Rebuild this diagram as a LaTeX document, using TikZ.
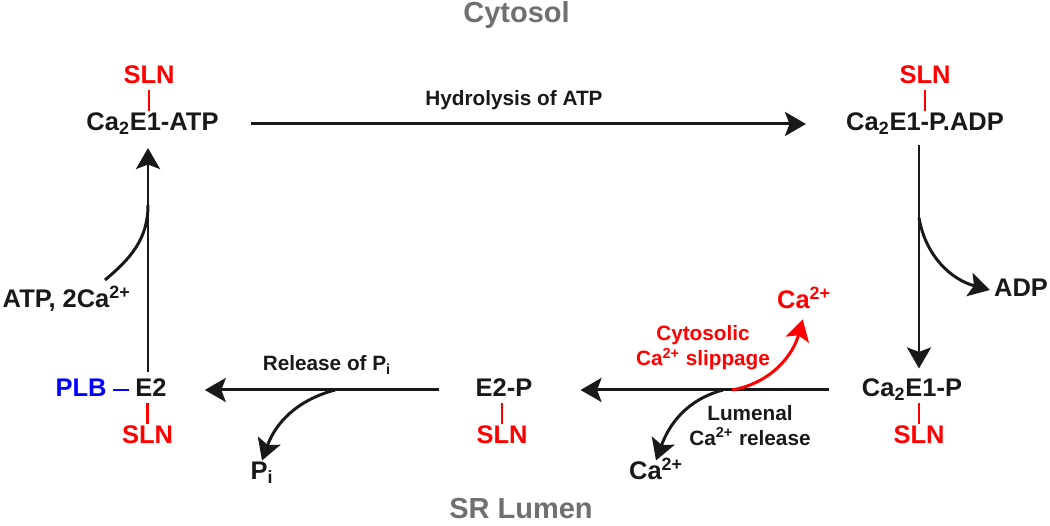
\documentclass[tikz,border=0pt]{standalone}
\usepackage{fontspec}
\setmainfont{Liberation Sans}
\usetikzlibrary{arrows.meta,positioning}
\definecolor{regiongray}{RGB}{112,112,112}
\definecolor{inkblack}{RGB}{25,25,25}
\tikzset{
  state/.style={font=\fontsize{14.5}{17}\selectfont\bfseries,text=inkblack,text height=0.72em,text depth=0pt},
  sln/.style={state,text=red},
  lbl/.style={font=\fontsize{11.8}{14.2}\selectfont\bfseries,text=inkblack,text height=0.72em,text depth=0pt},
  lbltwo/.style={font=\fontsize{11.8}{14.2}\selectfont\bfseries,text=inkblack,align=center},
  region/.style={font=\fontsize{16.5}{19}\selectfont\bfseries,text=regiongray,text height=0.72em,text depth=0pt},
  flow/.style={inkblack,line width=1.7pt,-{Stealth[length=4.2mm,width=4.8mm,inset=0.9mm]}},
  side/.style={inkblack,line width=1.7pt},
  tick/.style={red,line width=1.2pt}
}
\begin{document}
\begin{tikzpicture}
  \useasboundingbox (0,0) rectangle (21,10.52);
  \node[region] (cyto) at (10.33,10.2) {Cytosol};
  \node[region] (lumen) at (10.42,0.28) {SR Lumen};
  % states of the cycle
  \node[state] (atp) at (3.05,8.04) {Ca\textsubscript{2}E1-ATP};
  \node[state] (padp) at (18.5,8.04) {Ca\textsubscript{2}E1-P.ADP};
  \node[state] (cap) at (18.24,2.72) {Ca\textsubscript{2}E1-P};
  \node[state] (e2p) at (10.08,2.72) {E2-P};
  \node[state] (e2) at (3.02,2.72) {E2};
  \node[state,text=blue] (plb) at (1.62,2.72) {PLB};
  \node[sln] (slnatp) at (2.98,8.98) {SLN};
  \node[sln] (slnpadp) at (18.5,8.98) {SLN};
  \node[sln] (slncap) at (18.38,1.78) {SLN};
  \node[sln] (slne2p) at (10.04,1.78) {SLN};
  \node[sln] (slne2) at (2.95,1.78) {SLN};
  \draw[tick] (slnatp.south) -- (slnatp.south |- atp.north);
  \draw[tick] (slnpadp.south) -- (slnpadp.south |- padp.north);
  \draw[tick] (slncap.north) -- (slncap.north |- cap.south);
  \draw[tick] (slne2p.north) -- (slne2p.north |- e2p.south);
  \draw[tick] (slne2.north) -- (slne2.north |- e2.south);
  \draw[blue,line width=1.4pt] (plb.east) -- (e2.west);
  % products and substrates
  \node[state] (adp) at (20.42,4.72) {ADP};
  \node[state] (pi) at (5.24,1.06) {P\textsubscript{i}};
  \node[state] (calum) at (13.12,1.06) {Ca\textsuperscript{2+}};
  \node[state,text=red] (cacyt) at (16.08,4.48) {Ca\textsuperscript{2+}};
  \node[state,anchor=east,inner sep=0pt] (atpca) at (2.62,4.5) {ATP, 2Ca\textsuperscript{2+}};
  % step labels
  \node[lbl] (hyd) at (10.28,8.54) {Hydrolysis of ATP};
  \node[lbl] (relpi) at (6.54,3.23) {Release of P\textsubscript{i}};
  \node[lbltwo,text=red] (slip) at (14.06,3.56) {Cytosolic\\Ca\textsuperscript{2+} slippage};
  \node[lbltwo] (lumrel) at (15.0,2.01) {Lumenal\\Ca\textsuperscript{2+} release};
  % branch points
  \coordinate (atpfork) at (2.96,6.42);
  \coordinate (atpin) at (2.1,4.92);
  \coordinate (adpfork) at (18.38,6.16);
  \coordinate (pifork) at (6.7,2.72);
  \coordinate (lumfork) at (14.46,2.72);
  \coordinate (slipfork) at (14.64,2.72);
  % main cycle
  \draw[flow,shorten <=0.52cm,shorten >=0.68cm] (atp.east) -- (padp.west);
  \draw[flow,shorten <=0.17cm,shorten >=0.18cm] (padp.south -| adpfork) -- (cap.north -| adpfork);
  \draw[flow,shorten <=0.54cm,shorten >=0.84cm] (cap.west) -- (e2p.east);
  \draw[flow,shorten <=0.6cm,shorten >=0.64cm] (e2p.west) -- (e2.east);
  \draw[flow,shorten <=0.1cm,shorten >=0.23cm] (e2.north -| atpfork) -- (atp.south -| atpfork);
  % side branches
  \draw[side] (atpin) to[out=40,in=270] (atpfork);
  \draw[flow] (adpfork) to[out=-80,in=165] ([xshift=0.04cm]adp.west);
  \draw[flow] (pifork) to[out=195,in=70] (pi.north);
  \draw[flow] (lumfork) to[out=195,in=70] (calum.north);
  \draw[flow,red,shorten >=0.1cm] (slipfork) to[out=10,in=255] (cacyt.south);
\end{tikzpicture}
\end{document}
